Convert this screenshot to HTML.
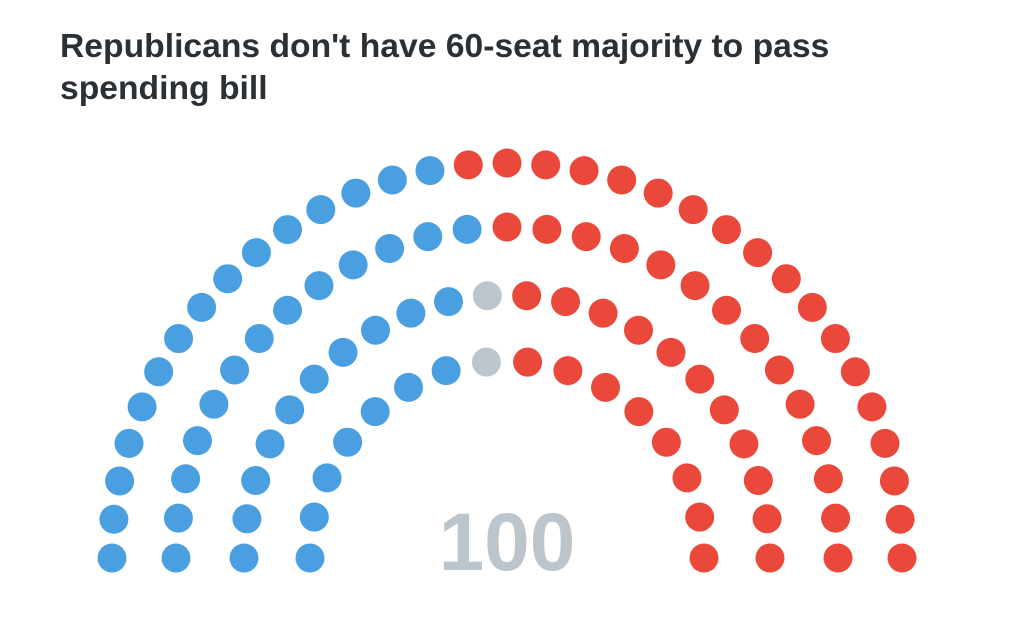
<!DOCTYPE html>
<html><head><meta charset="utf-8">
<style>
html,body{margin:0;padding:0;background:#fff;width:1024px;height:620px;overflow:hidden}
.title{position:absolute;left:60px;top:25px;font-family:"Liberation Sans",sans-serif;font-weight:bold;font-size:33px;line-height:42px;color:#2b3035;transform-origin:0 0;transform:scaleX(1.02);white-space:nowrap}
svg{position:absolute;left:0;top:0}
</style></head><body>
<div class="title">Republicans don't have 60-seat majority to pass<br>spending bill</div>
<svg id="chart" width="1024" height="620">
<text x="507" y="570" text-anchor="middle" font-family="Liberation Sans, sans-serif" font-weight="bold" font-size="82" fill="#bcc5cb">100</text>
</svg>
<script>
// Seats per row (outer to inner), split by party
const rowRadii = [395, 331, 263, 197];
const blueSeats = [15, 13, 10, 7];
const graySeats = [0, 0, 1, 1];
const redSeats = [18, 14, 11, 8];
const colors = {blue:'#4a9fe1', gray:'#bcc6cc', red:'#e9483a'};
const cx = 507, cy = 558, dotR = 14.5;
const svg = document.getElementById('chart');
const NS = 'http://www.w3.org/2000/svg';
rowRadii.forEach((r, i) => {
  const seq = [];
  for (let k = 0; k < blueSeats[i]; k++) seq.push('blue');
  for (let k = 0; k < graySeats[i]; k++) seq.push('gray');
  for (let k = 0; k < redSeats[i]; k++) seq.push('red');
  const n = seq.length;
  seq.forEach((party, j) => {
    const a = Math.PI - (n > 1 ? j * Math.PI / (n - 1) : Math.PI / 2);
    const c = document.createElementNS(NS, 'circle');
    c.setAttribute('cx', cx + r * Math.cos(a));
    c.setAttribute('cy', cy - r * Math.sin(a));
    c.setAttribute('r', dotR);
    c.setAttribute('fill', colors[party]);
    
    
    svg.appendChild(c);
  });
});
</script>
</body></html>
